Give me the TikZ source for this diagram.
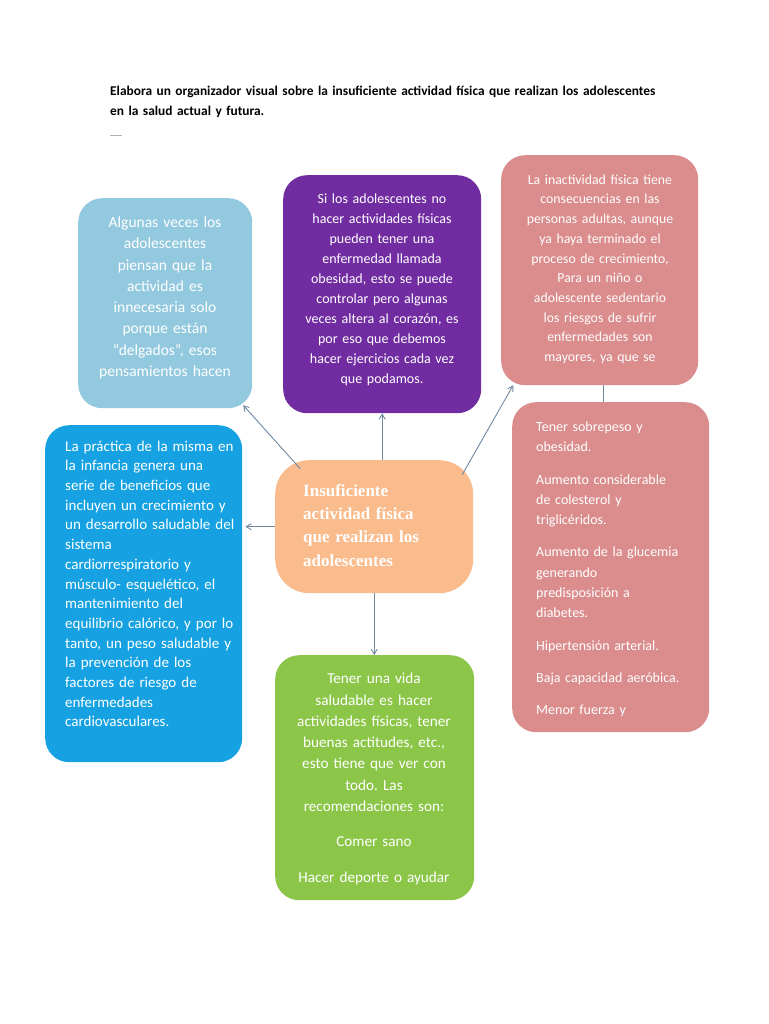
\documentclass[tikz,border=0pt]{standalone}
\usepackage{fontspec}
\setmainfont{Carlito}
\newfontfamily\serifb{Liberation Serif}
\usetikzlibrary{arrows.meta,calc}
\frenchspacing
\definecolor{lblue}{RGB}{147,201,223}
\definecolor{purp}{RGB}{112,44,160}
\definecolor{pink}{RGB}{219,140,140}
\definecolor{dblue}{RGB}{22,162,226}
\definecolor{orng}{RGB}{250,188,140}
\definecolor{grn}{RGB}{140,198,72}
\definecolor{arrc}{RGB}{112,136,160}
\begin{document}
\begin{tikzpicture}[x=1pt,y=-1pt,
  box/.style={rounded corners=24pt, inner sep=0pt, anchor=north west, draw=none},
  txt/.style={inner sep=0pt, text=white},
  arr/.style={draw=arrc, line width=0.9pt, -{Straight Barb[length=5pt,width=6pt]}},
  link/.style={draw=arrc, line width=0.9pt}]
\useasboundingbox (0,0) rectangle (768,1024);
\fill[white] (0,0) rectangle (768,1024);

% title
\node[inner sep=0pt, anchor=north west, align=left, font=\fontsize{13.4}{20}\selectfont\bfseries, text width=620pt] (title) at (110,85.5)
 {Elabora un organizador visual sobre la insuficiente actividad física que realizan los adolescentes\\en la salud actual y futura.};
\draw[gray!60, line width=1pt] (110,136) -- (122,136);

% boxes
\node[box, fill=lblue, minimum width=174pt, minimum height=210pt] (lb) at (78,198) {};
\node[box, fill=purp, minimum width=198pt, minimum height=238pt] (pu) at (283,175) {};
\node[box, fill=pink, minimum width=197pt, minimum height=230pt] (pk1) at (501,155) {};
\node[box, fill=dblue, minimum width=197pt, minimum height=337pt] (bl) at (45,425) {};
\node[box, fill=pink, minimum width=197pt, minimum height=330pt] (pk2) at (512,402) {};
\node[box, fill=orng, rounded corners=34pt, minimum width=198pt, minimum height=133pt] (or) at (275,460) {};
\node[box, fill=grn, minimum width=199pt, minimum height=245pt] (gr) at (275,655) {};

% texts
\node[txt, anchor=north, align=center, text width=172pt, font=\fontsize{15.5}{21.3}\selectfont] (lbt) at (165,216.5)
 {Algunas veces los\\adolescentes\\piensan que la\\actividad es\\innecesaria solo\\porque están\\“delgados”, esos\\pensamientos hacen};
\node[txt, anchor=north, align=center, text width=196pt, font=\fontsize{14}{20}\selectfont] (put) at (382,193.5)
 {Si los adolescentes no\\hacer actividades físicas\\pueden tener una\\enfermedad llamada\\obesidad, esto se puede\\controlar pero algunas\\veces altera al corazón, es\\por eso que debemos\\hacer ejercicios cada vez\\que podamos.};
\node[txt, anchor=north, align=center, text width=195pt, font=\fontsize{13.8}{19.7}\selectfont] (pk1t) at (600,174.5)
 {La inactividad física tiene\\consecuencias en las\\personas adultas, aunque\\ya haya terminado el\\proceso de crecimiento,\\Para un niño o\\adolescente sedentario\\los riesgos de sufrir\\enfermedades son\\mayores, ya que se};
\node[txt, anchor=north west, align=left, text width=188pt, font=\fontsize{15}{19.7}\selectfont] (blt) at (65,440.5)
 {La práctica de la misma en\\la infancia genera una\\serie de beneficios que\\incluyen un crecimiento y\\un desarrollo saludable del\\sistema\\cardiorrespiratorio y\\músculo- esquelético, el\\mantenimiento del\\equilibrio calórico, y por lo\\tanto, un peso saludable y\\la prevención de los\\factores de riesgo de\\enfermedades\\cardiovasculares.};
\node[txt, anchor=north west, align=left, text width=172pt, font=\fontsize{14}{20.3}\selectfont] (pk2t) at (536,421.5)
 {Tener sobrepeso y\\obesidad.\\[12pt]Aumento considerable\\de colesterol y\\triglicéridos.\\[12pt]Aumento de la glucemia\\generando\\predisposición a\\diabetes.\\[12pt]Hipertensión arterial.\\[12pt]Baja capacidad aeróbica.\\[12pt]Menor fuerza y};
\node[txt, anchor=north west, align=left, text width=168pt, font=\fontsize{17}{23.3}\selectfont\serifb\bfseries] (ort) at (303,484)
 {Insuficiente\\actividad física\\que realizan los\\adolescentes};
\node[txt, anchor=north, align=center, text width=197pt, font=\fontsize{15.2}{21.3}\selectfont] (grt) at (374,673)
 {Tener una vida\\saludable es hacer\\actividades físicas, tener\\buenas actitudes, etc.,\\esto tiene que ver con\\todo. Las\\recomendaciones son:\\[14pt]Comer sano\\[14pt]Hacer deporte o ayudar};

% connectors
\draw[arr] ($(or.center)+(-74,-58)$) -- ($(lb.center)+(78,102)$);
\draw[arr] (pu.south |- or.north) -- (pu.south);
\draw[arr] ($(or.center)+(88,-52)$) -- ($(pk1.center)+(-86.5,115)$);
\draw[arr, shorten >=3pt] (or.west) -- (or.west -| bl.east);
\draw[arr] (or.south) -- (or.south |- gr.north);
\draw[link] ($(pk1.south)+(3.5,0)$) -- ($(pk1.south)+(3.5,17)$);
\end{tikzpicture}
\end{document}
